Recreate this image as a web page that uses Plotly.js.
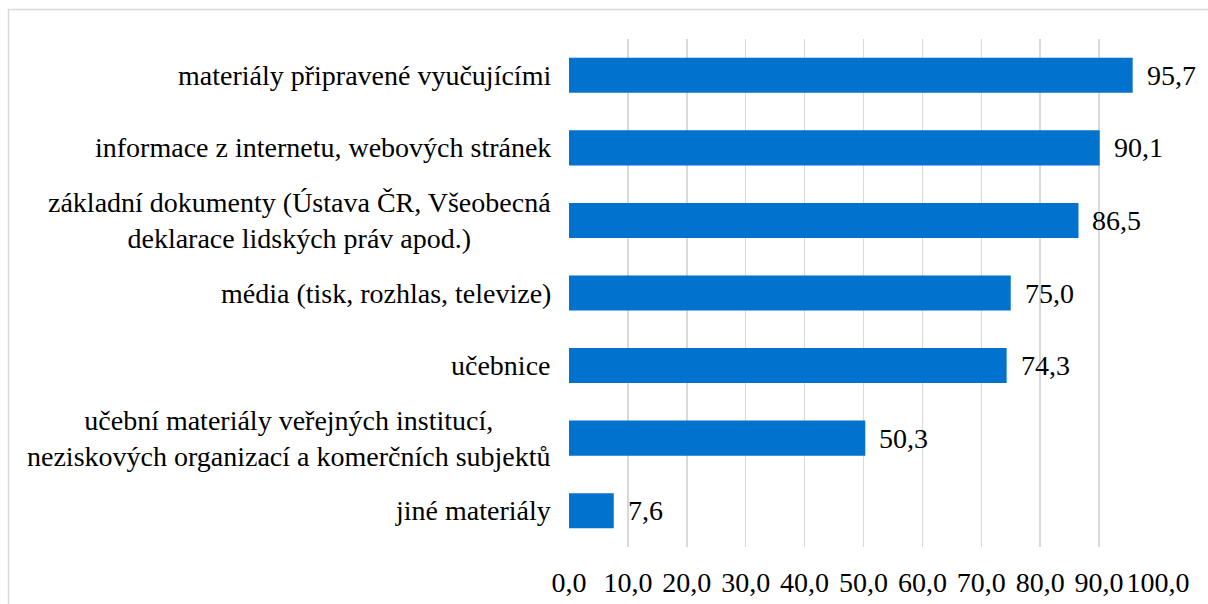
<!DOCTYPE html>
<html>
<head>
<meta charset="utf-8">
<script src="https://cdn.plot.ly/plotly-3.0.1.min.js"></script>
<style>
html,body{margin:0;padding:0;background:#fff;}
#chart{width:1208px;height:604px;}
</style>
</head>
<body>
<div id="chart"></div>
<script>
const categories = [
  "materiály připravené vyučujícími",
  "informace z internetu, webových stránek",
  "základní dokumenty (Ústava ČR, Všeobecná deklarace lidských práv apod.)",
  "média (tisk, rozhlas, televize)",
  "učebnice",
  "učební materiály veřejných institucí, neziskových organizací a komerčních subjektů",
  "jiné materiály"
];
const categoryLabels = [
  "materiály připravené vyučujícími",
  "informace z internetu, webových stránek",
  "základní dokumenty (Ústava ČR, Všeobecná<br>deklarace lidských práv apod.)",
  "média (tisk, rozhlas, televize)",
  "učebnice",
  "učební materiály veřejných institucí,<br>neziskových organizací a komerčních subjektů",
  "jiné materiály"
];
const values = [95.7, 90.1, 86.5, 75.0, 74.3, 50.3, 7.6];
const xTickValues = [0, 10, 20, 30, 40, 50, 60, 70, 80, 90, 100];

const FONT = "Liberation Serif";
const W = 1208, H = 604;
const M = {l: 569, r: 50, t: 39, b: 57};
const pw = W - M.l - M.r, ph = H - M.t - M.b;
const px2x = X => (X - M.l) / pw;
const px2y = Y => (H - M.b - Y) / ph;

const annotations = [];
categories.forEach((c, i) => {
  annotations.push({
    xref: 'paper', yref: 'y', x: 0, y: c,
    text: categoryLabels[i], showarrow: false,
    xanchor: 'right', yanchor: 'middle', align: 'center', xshift: -16,
    font: {family: FONT, size: 28, color: '#000'}
  });
  annotations.push({
    xref: 'x', yref: 'y', x: values[i], y: c,
    text: values[i].toFixed(1).replace('.', ','), showarrow: false,
    xanchor: 'left', yanchor: 'middle', xshift: 12,
    font: {family: FONT, size: 28, color: '#000'}
  });
});

const trace = {
  type: 'bar', orientation: 'h',
  x: values, y: categories,
  marker: {color: '#0172CE', line: {width: 0}},
  hoverinfo: 'none'
};

const layout = {
  width: W, height: H,
  margin: M,
  paper_bgcolor: '#fff', plot_bgcolor: '#fff',
  separators: ', ',
  showlegend: false,
  bargap: 0.517,
  font: {family: FONT, size: 28, color: '#000'},
  xaxis: {
    range: [0, 100], tickvals: xTickValues, tickformat: '.1f',
    showgrid: true, gridcolor: '#d9d9d9', gridwidth: 1.5,
    zeroline: false, showline: false, ticks: 'outside', ticklen: 10, tickcolor: 'rgba(0,0,0,0)',
    tickfont: {family: FONT, size: 28, color: '#000'},
    fixedrange: true
  },
  yaxis: {
    type: 'category', autorange: 'reversed',
    showticklabels: false, showgrid: false, zeroline: false, showline: false, ticks: '',
    fixedrange: true
  },
  annotations: annotations,
  shapes: [{
    type: 'rect', xref: 'paper', yref: 'paper',
    x0: px2x(8.5), x1: px2x(1215), y0: px2y(9.5), y1: px2y(620),
    line: {color: '#d9d9d9', width: 1.5}, fillcolor: 'rgba(0,0,0,0)', layer: 'below'
  }]
};

Plotly.newPlot('chart', [trace], layout, {staticPlot: true, displayModeBar: false});
</script>
</body>
</html>
